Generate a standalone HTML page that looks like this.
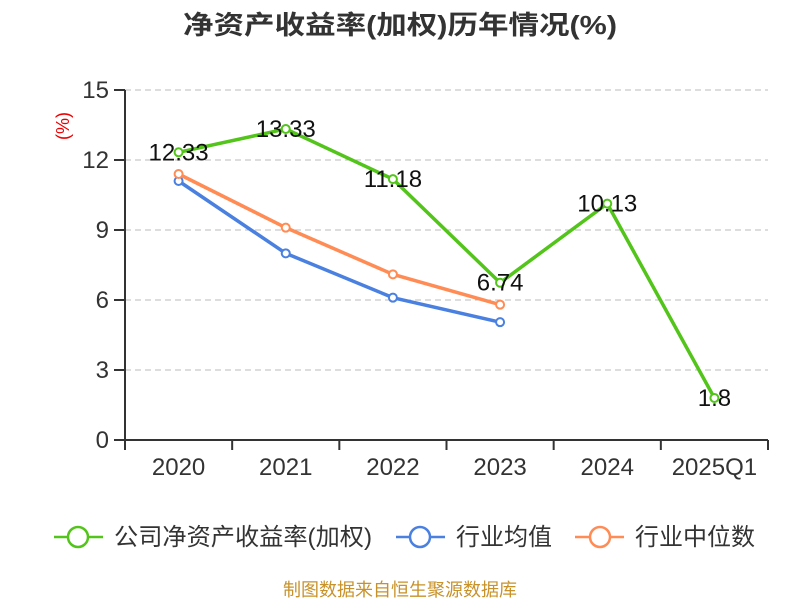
<!DOCTYPE html>
<html><head><meta charset="utf-8"><style>
body{margin:0;background:#fff;}
svg{display:block;font-family:"Liberation Sans","Noto Sans CJK SC",sans-serif;}
</style></head><body>
<svg id="chart" width="800" height="600">
<text x="400" y="34" text-anchor="middle" font-size="26" font-weight="bold" fill="#333" textLength="434" lengthAdjust="spacingAndGlyphs">净资产收益率(加权)历年情况(%)</text>
<text transform="translate(69,126) rotate(-90)" text-anchor="middle" font-size="18" fill="#e00">(%)</text>
<g id="grid"></g><g id="axes"></g><g id="series"></g>
<g>
 <g>
  <line x1="54" y1="537" x2="103" y2="537" stroke="#52c41a" stroke-width="2.5"/><circle cx="78" cy="537" r="10" fill="#fff" stroke="#52c41a" stroke-width="2.5"/>
  <text x="114" y="545" font-size="24" fill="#333" textLength="258" lengthAdjust="spacingAndGlyphs">公司净资产收益率(加权)</text></g>
 <g>
  <line x1="396" y1="537" x2="445" y2="537" stroke="#4a80e0" stroke-width="2.5"/><circle cx="420" cy="537" r="10" fill="#fff" stroke="#4a80e0" stroke-width="2.5"/>
  <text x="456" y="545" font-size="24" fill="#333" textLength="96" lengthAdjust="spacingAndGlyphs">行业均值</text></g>
 <g>
  <line x1="575" y1="537" x2="624" y2="537" stroke="#ff8c55" stroke-width="2.5"/><circle cx="600" cy="537" r="10" fill="#fff" stroke="#ff8c55" stroke-width="2.5"/>
  <text x="635" y="545" font-size="24" fill="#333" textLength="120" lengthAdjust="spacingAndGlyphs">行业中位数</text></g>
</g>
<text x="400" y="596" text-anchor="middle" font-size="18" fill="#c8922a" textLength="234" lengthAdjust="spacingAndGlyphs">制图数据来自恒生聚源数据库</text>
</svg>
<script>
const categories=["2020","2021","2022","2023","2024","2025Q1"];
const companyValues=[12.33,13.33,11.18,6.74,10.13,1.8];
const industryAvg=[11.1,8.0,6.1,5.05,null,null];
const industryMedian=[11.4,9.1,7.1,5.8,null,null];
const yTicks=[0,3,6,9,12,15];
const NS="http://www.w3.org/2000/svg";
const L=125,R=768,T=90,B=440,yMax=15;
const band=(R-L)/categories.length;
const x=i=>L+band*(i+0.5);
const y=v=>B-(v/yMax)*(B-T);
function mk(tag,attrs,parent,text){const e=document.createElementNS(NS,tag);for(const k in attrs)e.setAttribute(k,attrs[k]);if(text!==undefined)e.textContent=text;parent.appendChild(e);return e;}
const grid=document.getElementById('grid'),axes=document.getElementById('axes'),ser=document.getElementById('series');
yTicks.forEach(t=>{
 if(t>0){const g=mk('line',{x1:L,x2:R,y1:y(t),y2:y(t),stroke:'#bbb','stroke-dasharray':'6,4'},grid);
 
 }
 const tk=mk('line',{x1:L-11,x2:L,y1:y(t),y2:y(t),stroke:'#333','stroke-width':2},axes);
 
 
 const lb=mk('text',{x:L-16,y:y(t)+8,'text-anchor':'end','font-size':24,fill:'#333'},axes,String(t));
 
 
});
const ya=mk('line',{x1:L,x2:L,y1:T,y2:B,stroke:'#333','stroke-width':2},axes);


const xa=mk('line',{x1:L,x2:R,y1:B,y2:B,stroke:'#333','stroke-width':2},axes);


for(let i=0;i<=categories.length;i++){const t=mk('line',{x1:L+band*i,x2:L+band*i,y1:B,y2:B+10,stroke:'#333','stroke-width':2},axes);
 
 }
categories.forEach((c,i)=>{const t=mk('text',{x:x(i),y:B+35,'text-anchor':'middle','font-size':24,fill:'#333'},axes,c);
 
 });
function drawSeries(vals,color,name,labels){
 const pts=vals.map((v,i)=>v==null?null:[x(i),y(v)]).filter(p=>p);
 const pl=mk('polyline',{points:pts.map(p=>p.join(',')).join(' '),fill:'none',stroke:color,'stroke-width':3.5},ser);
 
 
 vals.forEach((v,i)=>{if(v==null)return;
  const c=mk('circle',{cx:x(i),cy:y(v),r:4,fill:'#fff',stroke:color,'stroke-width':2},ser);
  
  
  if(labels){const t=mk('text',{x:x(i),y:y(v)+8,'text-anchor':'middle','font-size':24,fill:'#111'},ser,String(v));
   
   }
 });
}
drawSeries(industryAvg,'#4a80e0','industry-avg',false);
drawSeries(industryMedian,'#ff8c55','industry-median',false);
drawSeries(companyValues,'#52c41a','company-roe',true);
</script>
</body></html>
